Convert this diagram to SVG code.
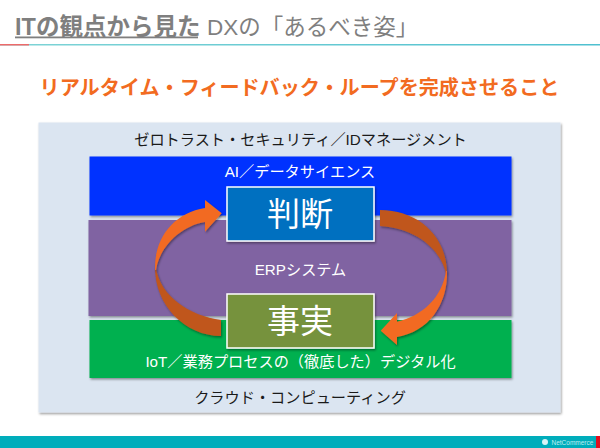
<svg xmlns="http://www.w3.org/2000/svg" width="600" height="448" viewBox="0 0 600 448">
<defs>
<filter id="sh" x="-5%" y="-5%" width="110%" height="115%"><feDropShadow dx="1" dy="1.5" stdDeviation="1" flood-color="#000" flood-opacity="0.4"/></filter>
<linearGradient id="rule" x1="0" x2="1" y1="0" y2="0"><stop offset="0" stop-color="#7fd4d6"/><stop offset="1" stop-color="#4fc0d0"/></linearGradient>
</defs>
<style>
text{font-family:"Liberation Sans","Noto Sans CJK JP",sans-serif}
.t{font-size:15.200px;text-anchor:middle}
.k{font-size:33px;fill:#fff;text-anchor:middle}
.b{stroke:#fff;stroke-width:1.5;filter:url(#sh)}
.fr{fill:#f26b21;filter:url(#sh)}
.bk{fill:#c0561c;filter:url(#sh)}
</style>
<rect width="600" height="448" fill="#fff"/>
<g id="title">
<text x="15" y="35" font-size="23.500" fill="#7f7f7f" font-weight="bold">ITの観点から見た</text>
<rect x="15" y="36.500" width="183" height="1.800" fill="#7f7f7f"/>
<text x="207" y="35" font-size="22.500" fill="#7f7f7f">DXの「あるべき姿」</text>
<rect x="0" y="44" width="600" height="1.500" fill="url(#rule)"/>
<rect x="0" y="44" width="29" height="1.500" fill="#ee6a6a"/>
</g>
<text id="headline" x="299.500" y="95" font-size="20.100" font-weight="bold" fill="#f26b21" text-anchor="middle">リアルタイム・フィードバック・ループを完成させること</text>
<g id="cloud">
<rect x="38.500" y="122.500" width="522" height="290" fill="#dbe5f1" filter="url(#sh)"/>
<text class="t" x="300.500" y="144.500" fill="#1a1a1a">ゼロトラスト・セキュリティ／IDマネージメント</text>
<text class="t" x="300" y="403" fill="#1a1a1a">クラウド・コンピューティング</text>
</g>
<g id="ai">
<rect x="89.500" y="156.500" width="422" height="59" fill="#0033ff" filter="url(#sh)"/>
<text class="t" x="300" y="177" fill="#fff">AI／データサイエンス</text>
</g>
<g id="erp">
<rect x="88.500" y="220" width="423" height="96" fill="#8064a2" filter="url(#sh)"/>
<text class="t" x="300.500" y="275" fill="#fff">ERPシステム</text>
</g>
<g id="iot">
<rect x="89.500" y="320" width="422" height="58" fill="#00b050" filter="url(#sh)"/>
<text class="t" x="300.500" y="367" fill="#fff">IoT／業務プロセスの（徹底した）デジタル化</text>
</g>
<g id="connectors">
<path class="bk" d="M155 268 C155 305 185 336 221 336 L221 320 C190 316 160 296 156 268 Z"/>
<path class="fr" d="M221.700 213.300 L205 200 L205 208 C175 213 155 236 155 268 L155 270 L156 270 C159 248 180 226 205 222 L205 231.700 Z"/>
<path class="bk" d="M380 210 C418 210 447 236 447 274 L446 274 C442 252 418 228 380 226 Z"/>
<path class="fr" d="M380.700 330.700 L397 313 L397 321.700 C422 316 442 298 446 271 L447 271 C448 305 428 332 397 337 L397 345 Z"/>
</g>
<g id="judge">
<rect class="b" x="227" y="187" width="147" height="54" fill="#0070c0"/>
<text class="k" x="300" y="226">判断</text>
</g>
<g id="fact">
<rect class="b" x="227" y="294" width="147" height="54" fill="#76923c"/>
<text class="k" x="300" y="333">事実</text>
</g>
<g id="footer">
<rect x="0" y="436" width="600" height="12" fill="#00adbb"/>
<rect x="596" y="436" width="4" height="12" fill="#e01020"/>
<circle cx="545" cy="442" r="3" fill="#d8f4f6"/>
<text x="551.500" y="444.500" font-size="6.500" fill="#bfeef2">NetCommerce</text>
</g>
</svg>
